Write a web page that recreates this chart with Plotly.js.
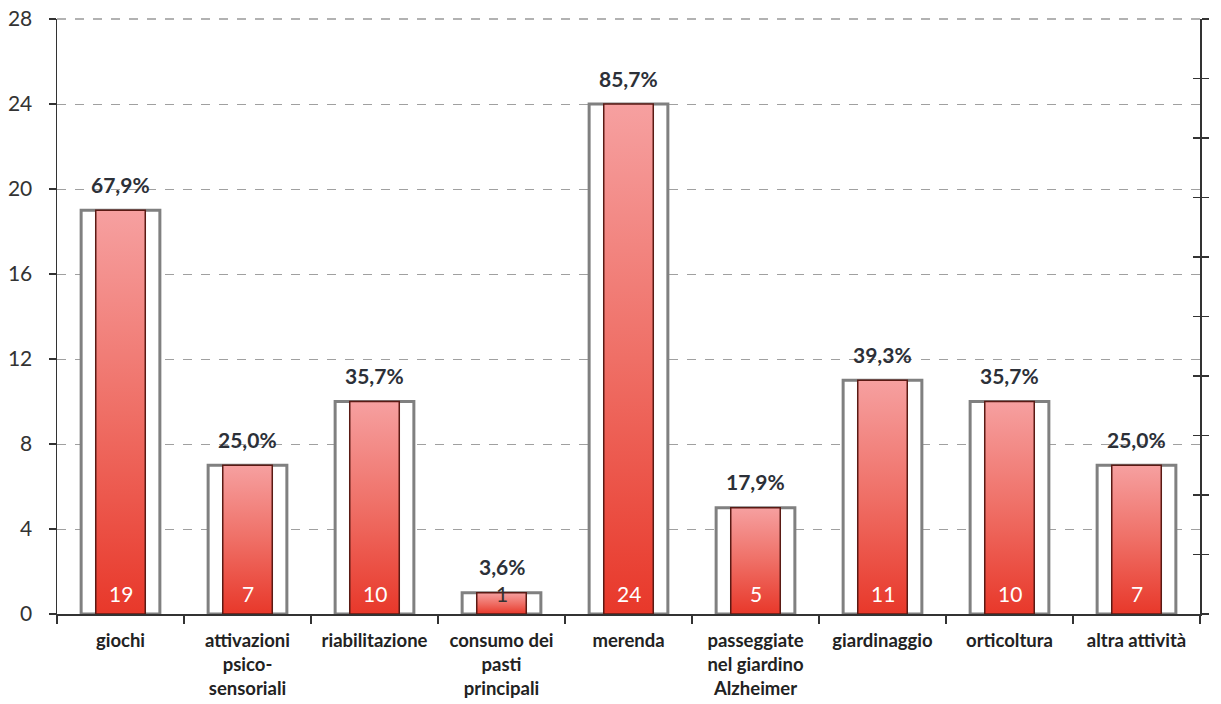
<!DOCTYPE html>
<html>
<head>
<meta charset="utf-8">
<script src="https://cdn.plot.ly/plotly-3.0.1.min.js"></script>
<style>html,body{margin:0;padding:0;background:#fff;}#chart{width:1221px;height:704px;}</style>
</head>
<body>
<div id="chart"></div>
<script>
const categories = ["giochi","attivazioni<br>psico-<br>sensoriali","riabilitazione","consumo dei<br>pasti<br>principali","merenda","passeggiate<br>nel giardino<br>Alzheimer","giardinaggio","orticoltura","altra attività"];
const counts = [19, 7, 10, 1, 24, 5, 11, 10, 7];
const percentLabels = ["67,9%","25,0%","35,7%","3,6%","85,7%","17,9%","39,3%","35,7%","25,0%"];
const yTicks = [0, 4, 8, 12, 16, 20, 24, 28];

const FONT = "Lato, 'Open Sans', sans-serif";

const outer = {
  type: 'bar', x: categories, y: counts, width: 0.62,
  marker: {color: '#ffffff', line: {color: '#808080', width: 3}},
  hoverinfo: 'skip', showlegend: false
};
const inner = {
  type: 'bar', x: categories, y: counts, width: 0.39,
  marker: {color: '#ee5548', line: {color: '#5a1a14', width: 1.5}},
  hoverinfo: 'skip', showlegend: false
};
const rightA = {type: 'scatter', x: [], y: [], yaxis: 'y2', showlegend: false};
const rightB = {type: 'scatter', x: [], y: [], yaxis: 'y3', showlegend: false};

const annotations = [];
categories.forEach((c, i) => {
  annotations.push({
    x: c, y: counts[i], xref: 'x', yref: 'y', text: percentLabels[i],
    showarrow: false, yanchor: 'middle', yshift: 26,
    font: {family: FONT, size: 21, color: '#2c3038', weight: 'bold'}
  });
  annotations.push({
    x: c, y: 0, xref: 'x', yref: 'y', text: String(counts[i]),
    showarrow: false, yanchor: 'middle', yshift: 21,
    font: {family: FONT, size: 21, color: counts[i] < 2 ? '#333333' : '#ffffff'}
  });
});

const YMAX = yTicks[yTicks.length - 1];
const layout = {
  width: 1221, height: 704,
  margin: {l: 57, r: 21, t: 19, b: 90},
  paper_bgcolor: '#ffffff', plot_bgcolor: '#ffffff',
  barmode: 'overlay',
  font: {family: FONT, color: '#333333'},
  xaxis: {
    type: 'category', showline: true, linecolor: '#333333', linewidth: 1.5,
    ticks: 'outside', tickson: 'boundaries', ticklen: 8, tickcolor: '#333333', tickwidth: 1.5,
    ticklabelstandoff: 9,
    tickfont: {family: FONT, size: 18.5, color: '#222222', weight: 'bold'},
    showgrid: false, zeroline: false
  },
  yaxis: {
    range: [0, YMAX], tickvals: yTicks, showline: true, linecolor: '#333333', linewidth: 1.5,
    ticks: 'outside', ticklen: 7, tickcolor: '#333333', tickwidth: 1.5,
    ticklabelstandoff: 12,
    tickfont: {family: FONT, size: 21, color: '#333333'},
    showgrid: true, gridcolor: '#a0a0a0', griddash: 'dash', gridwidth: 1,
    zeroline: false
  },
  yaxis2: {
    overlaying: 'y', side: 'right', range: [0, 1], dtick: 0.1, tick0: 0,
    showticklabels: false, showline: true, linecolor: '#333333', linewidth: 1.5,
    ticks: 'outside', ticklen: 7, tickcolor: '#333333', tickwidth: 1.5,
    showgrid: false, zeroline: false
  },
  yaxis3: {
    overlaying: 'y', side: 'right', range: [0, 1], dtick: 0.1, tick0: 0,
    showticklabels: false, showline: false,
    ticks: 'inside', ticklen: 7, tickcolor: '#333333', tickwidth: 1.5,
    showgrid: false, zeroline: false
  },
  shapes: [{
    type: 'line', xref: 'paper', x0: 0, x1: 1, yref: 'paper', y0: 1, y1: 1,
    line: {color: '#999999', width: 1.5, dash: 'dash'}, layer: 'above'
  }],
  annotations: annotations
};

Plotly.newPlot('chart', [outer, inner, rightA, rightB], layout, {displayModeBar: false, staticPlot: true}).then(gd => {
  const svgNS = 'http://www.w3.org/2000/svg';
  const svg = gd.querySelector('svg.main-svg');
  let defs = svg.querySelector('defs');
  if (!defs) { defs = document.createElementNS(svgNS, 'defs'); svg.insertBefore(defs, svg.firstChild); }
  const grad = document.createElementNS(svgNS, 'linearGradient');
  grad.setAttribute('id', 'redgrad');
  grad.setAttribute('x1', '0'); grad.setAttribute('y1', '0');
  grad.setAttribute('x2', '0'); grad.setAttribute('y2', '1');
  [['0', '#f6a0a0'], ['0.5', '#ef6f66'], ['1', '#e8382a']].forEach(([o, c]) => {
    const s = document.createElementNS(svgNS, 'stop');
    s.setAttribute('offset', o); s.setAttribute('stop-color', c);
    grad.appendChild(s);
  });
  defs.appendChild(grad);
  const traces = gd.querySelectorAll('.barlayer .trace');
  if (traces.length > 1) {
    traces[1].querySelectorAll('path').forEach(p => { p.style.fill = 'url(#redgrad)'; });
  }
});
</script>
</body>
</html>
